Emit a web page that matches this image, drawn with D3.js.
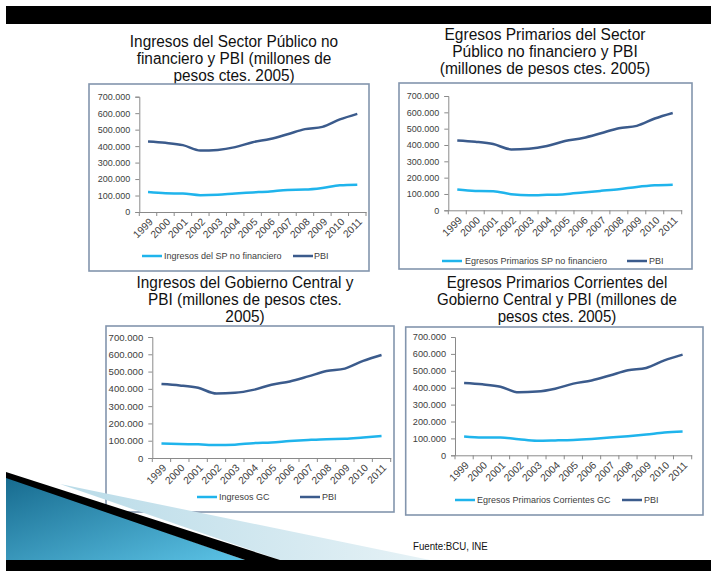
<!DOCTYPE html>
<html><head><meta charset="utf-8">
<script src="https://cdn.jsdelivr.net/npm/d3@7"></script>
<style>
html,body{margin:0;padding:0;background:#fff;}
svg{display:block;}
</style></head>
<body>
<svg id="c" width="711" height="571"></svg>
<script>
// ---- data (pesos ctes. 2005) ----
const years = ["1999","2000","2001","2002","2003","2004","2005","2006","2007","2008","2009","2010","2011"];
const pbi = [428000,420000,406000,373000,377000,394000,424000,443000,472000,503000,517000,562000,596000];
const ingresosSP = [121000,114000,112000,102000,105000,113000,119000,125000,134000,136000,146000,162000,166000];
const egresosSP = [127000,118000,117000,99000,92000,95000,99000,109000,119000,129000,143000,153000,157000];
const ingresosGC = [84000,81000,79000,75000,77000,86000,90000,98000,104000,109000,111000,119000,127000];
const egresosGC = [111000,105000,105000,95000,86000,88000,91000,97000,105000,113000,123000,135000,141000];
const yTicks = [0,100000,200000,300000,400000,500000,600000,700000];

const titles = [
  ["Ingresos  del Sector Público no","financiero y PBI (millones de","pesos ctes. 2005)"],
  ["Egresos Primarios del Sector","Público no financiero y PBI","(millones de  pesos ctes. 2005)"],
  ["Ingresos  del Gobierno Central y","PBI (millones de pesos ctes.","2005)"],
  ["Egresos Primarios Corrientes del","Gobierno Central y PBI (millones de","pesos ctes. 2005)"]
];
const seriesNames = ["Ingresos del SP no financiero","Egresos Primarios SP no financiero","Ingresos GC","Egresos Primarios Corrientes GC"];
const seriesData = [ingresosSP, egresosSP, ingresosGC, egresosGC];
const pbiName = "PBI";
const sourceText = "Fuente:BCU, INE";

const LIGHT = "#1fb4ec", DARK = "#3b5b8c";
const loc = d3.formatLocale({decimal:",", thousands:".", grouping:[3], currency:["$",""]});
const fmt = loc.format(",");

const svg = d3.select("#c");

// layout per panel
const panels = [
  {box:[89,84,369,271], px:[139.3,366], py:[212,96.7], tx:234, ty:[47,64,81], k:0.96, leg:{y:256, l1:142, t1:164, l2:293, t2:314}, fs:9},
  {box:[399,83,692,269], px:[448.3,681.7], py:[210.3,96], tx:545, ty:[40,57,74], k:0.97, leg:{y:261, l1:442, t1:465, l2:627, t2:649}, fs:9},
  {box:[106,326,394,512], px:[152.3,390.7], py:[458,337], tx:245, ty:[288,305,322], k:0.96, leg:{y:497, l1:197, t1:219, l2:300, t2:322}, fs:9.6},
  {box:[405.7,327,703,515], px:[455,691.7], py:[455.3,337], tx:557, ty:[288,305,322], k:0.94, leg:{y:500, l1:455, t1:477, l2:622, t2:644}, fs:9.2}
];

// top black bar
svg.append("rect").attr("x",6).attr("y",6).attr("width",705).attr("height",18).attr("fill","#000");

panels.forEach((p,i)=>{
  const g = svg.append("g");
  // title
  titles[i].forEach((line,k)=>{
    const t = g.append("text").attr("text-anchor","middle")
      .attr("font-family","'Liberation Sans',Arial,sans-serif")
      .attr("font-size",16).attr("fill","#111")
      .attr("x",p.tx).attr("y",p.ty[k]).text(line);
    const w = t.node().getComputedTextLength();
    t.attr("textLength",w*p.k).attr("lengthAdjust","spacingAndGlyphs");
  });
  // box
  g.append("rect").attr("x",p.box[0]).attr("y",p.box[1])
    .attr("width",p.box[2]-p.box[0]).attr("height",p.box[3]-p.box[1])
    .attr("fill","#fff").attr("stroke","#8395ad").attr("stroke-width",1.6);

  const x = d3.scaleBand().domain(years).range(p.px);
  const y = d3.scaleLinear().domain([0,700000]).range(p.py);

  // y axis
  const ya = g.append("g").attr("transform",`translate(${p.px[0]},0)`)
    .call(d3.axisLeft(y).tickValues(yTicks).tickFormat(fmt).tickSize(4).tickPadding(5));
  ya.select(".domain").attr("stroke","#8a8a8a");
  ya.selectAll(".tick line").attr("stroke","#8a8a8a");
  ya.selectAll("text").attr("font-family","'Liberation Sans',Arial,sans-serif").attr("font-size",p.fs).attr("fill","#404040");

  // x axis
  const xa = g.append("g").attr("transform",`translate(0,${p.py[0]})`)
    .call(d3.axisBottom(x).tickSize(0).tickPadding(0));
  xa.select(".domain").attr("stroke","#8a8a8a");
  xa.selectAll("text")
    .attr("font-family","'Liberation Sans',Arial,sans-serif").attr("font-size",10.3).attr("fill","#404040")
    .attr("text-anchor","end").attr("dy","0.35em").attr("y",0)
    .attr("transform","translate(3,8) rotate(-45)");
  // boundary tick marks
  const bounds = years.map(d=>x(d)).concat([p.px[1]]);
  g.selectAll(null).data(bounds).enter().append("line")
    .attr("x1",d=>d).attr("x2",d=>d).attr("y1",p.py[0]).attr("y2",p.py[0]+4)
    .attr("stroke","#8a8a8a");

  const line = d3.line().x((d,k)=>x(years[k])+x.bandwidth()/2).y(d=>y(d)).curve(d3.curveMonotoneX);
  g.append("path").attr("d",line(seriesData[i])).attr("fill","none").attr("stroke",LIGHT).attr("stroke-width",2.5);
  g.append("path").attr("d",line(pbi)).attr("fill","none").attr("stroke",DARK).attr("stroke-width",2.5);

  // legend
  const L = p.leg;
  g.append("line").attr("x1",L.l1).attr("x2",L.l1+20).attr("y1",L.y).attr("y2",L.y).attr("stroke",LIGHT).attr("stroke-width",2.5);
  g.append("text").attr("x",L.t1).attr("y",L.y).attr("dy","0.35em")
    .attr("font-family","'Liberation Sans',Arial,sans-serif").attr("font-size",9).attr("fill","#404040").text(seriesNames[i]);
  g.append("line").attr("x1",L.l2).attr("x2",L.l2+20).attr("y1",L.y).attr("y2",L.y).attr("stroke",DARK).attr("stroke-width",2.5);
  g.append("text").attr("x",L.t2).attr("y",L.y).attr("dy","0.35em")
    .attr("font-family","'Liberation Sans',Arial,sans-serif").attr("font-size",9).attr("fill","#404040").text(pbiName);
});

// decoration (bottom-left wedge)
const defs = svg.append("defs");
const gr = defs.append("linearGradient").attr("id","bl").attr("x1","0").attr("y1","0").attr("x2","1").attr("y2","1");
gr.append("stop").attr("offset","0").attr("stop-color","#166a8e");
gr.append("stop").attr("offset","1").attr("stop-color","#5cc3e6");
const gr2 = defs.append("linearGradient").attr("id","lb").attr("x1","0").attr("y1","0").attr("x2","1").attr("y2","0");
gr2.append("stop").attr("offset","0").attr("stop-color","#b9dbe8");
gr2.append("stop").attr("offset","1").attr("stop-color","#e6f2f6");
svg.append("path").attr("d","M60,484 L430,560 L280,560 Z").attr("fill","url(#lb)");
svg.append("path").attr("d","M6,476 L6,560 L245,560 Z").attr("fill","url(#bl)");
svg.append("path").attr("d","M6,472 L280,560 L245,560 L6,478 Z").attr("fill","#000");

// source
const src = svg.append("text").attr("x",413).attr("y",550).attr("font-family","'Liberation Sans',Arial,sans-serif")
  .attr("font-size",11).attr("fill","#111").text(sourceText);
src.attr("textLength",src.node().getComputedTextLength()*0.88).attr("lengthAdjust","spacingAndGlyphs");

// bottom black bar
svg.append("rect").attr("x",6).attr("y",560).attr("width",705).attr("height",11).attr("fill","#000");
</script>
</body></html>
